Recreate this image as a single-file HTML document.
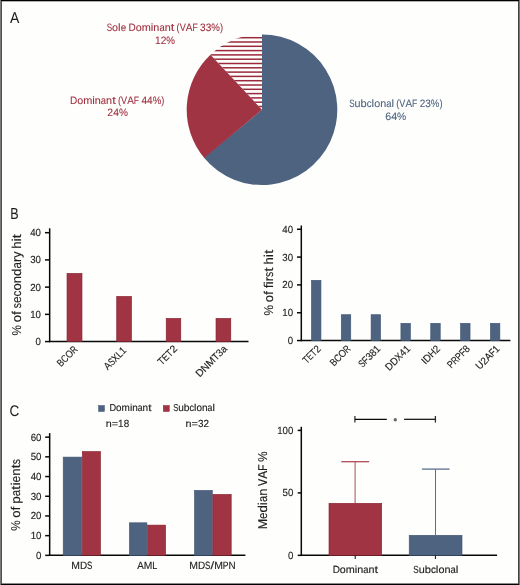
<!DOCTYPE html>
<html><head><meta charset="utf-8"><style>
html,body{margin:0;padding:0;background:#fefefd;}
svg{display:block;text-rendering:geometricPrecision;font-family:"Liberation Sans",sans-serif;-webkit-font-smoothing:antialiased;will-change:transform;}
</style></head><body>
<svg width="520" height="585" viewBox="0 0 520 585">
<rect x="0" y="0" width="520" height="585" fill="#fefefd"/>
<g transform="translate(14.55,22.90)" font-size="15.48" fill="#1e1e1e" stroke="#1e1e1e" stroke-width="0.05"><text x="-4.66" y="0" textLength="9.32" lengthAdjust="spacingAndGlyphs">A</text></g>
<g transform="translate(14.45,218.90)" font-size="15.88" fill="#1e1e1e" stroke="#1e1e1e" stroke-width="0.05"><text x="-4.18" y="0" textLength="8.36" lengthAdjust="spacingAndGlyphs">B</text></g>
<g transform="translate(14.35,416.00)" font-size="15.29" fill="#1e1e1e" stroke="#1e1e1e" stroke-width="0.05"><text x="-4.85" y="0" textLength="9.70" lengthAdjust="spacingAndGlyphs">C</text></g>
<path d="M262.0,109.7 L262.000,34.400 A75.3,75.3 0 1 1 203.813,157.495 Z" fill="#4d6380"/>
<path d="M262.0,109.7 L204.232,158.001 A75.3,75.3 0 0 1 210.454,54.809 Z" fill="#a03443"/>
<clipPath id="hc"><path d="M262.0,109.7 L210.454,54.809 A75.3,75.3 0 0 1 262.0,34.400000000000006 Z"/></clipPath>
<g clip-path="url(#hc)"><rect x="180" y="36.95" width="90" height="1.5" fill="#9a2a3a"/><rect x="180" y="41.25" width="90" height="1.5" fill="#9a2a3a"/><rect x="180" y="45.55" width="90" height="1.5" fill="#9a2a3a"/><rect x="180" y="49.85" width="90" height="1.5" fill="#9a2a3a"/><rect x="180" y="54.15" width="90" height="1.5" fill="#9a2a3a"/><rect x="180" y="58.45" width="90" height="1.5" fill="#9a2a3a"/><rect x="180" y="62.75" width="90" height="1.5" fill="#9a2a3a"/><rect x="180" y="67.05" width="90" height="1.5" fill="#9a2a3a"/><rect x="180" y="71.35" width="90" height="1.5" fill="#9a2a3a"/><rect x="180" y="75.65" width="90" height="1.5" fill="#9a2a3a"/><rect x="180" y="79.95" width="90" height="1.5" fill="#9a2a3a"/><rect x="180" y="84.25" width="90" height="1.5" fill="#9a2a3a"/><rect x="180" y="88.55" width="90" height="1.5" fill="#9a2a3a"/><rect x="180" y="92.85" width="90" height="1.5" fill="#9a2a3a"/><rect x="180" y="97.15" width="90" height="1.5" fill="#9a2a3a"/><rect x="180" y="101.45" width="90" height="1.5" fill="#9a2a3a"/><rect x="180" y="105.75" width="90" height="1.5" fill="#9a2a3a"/></g>
<g transform="translate(164.85,30.50)" font-size="10.68" fill="#a0303f" stroke="#a0303f" stroke-width="0.08"><text x="-58.14" y="0" textLength="5.38" lengthAdjust="spacingAndGlyphs">S</text><text x="-52.76" y="0" textLength="5.99" lengthAdjust="spacingAndGlyphs">o</text><text x="-46.78" y="0" textLength="2.57" lengthAdjust="spacingAndGlyphs">l</text><text x="-44.21" y="0" textLength="5.46" lengthAdjust="spacingAndGlyphs">e</text><text x="-36.43" y="0" textLength="7.26" lengthAdjust="spacingAndGlyphs">D</text><text x="-29.17" y="0" textLength="5.99" lengthAdjust="spacingAndGlyphs">o</text><text x="-23.18" y="0" textLength="9.09" lengthAdjust="spacingAndGlyphs">m</text><text x="-14.09" y="0" textLength="2.55" lengthAdjust="spacingAndGlyphs">i</text><text x="-11.54" y="0" textLength="6.05" lengthAdjust="spacingAndGlyphs">n</text><text x="-5.48" y="0" textLength="5.26" lengthAdjust="spacingAndGlyphs">a</text><text x="-0.23" y="0" textLength="6.05" lengthAdjust="spacingAndGlyphs">n</text><text x="5.82" y="0" textLength="3.61" lengthAdjust="spacingAndGlyphs">t</text><text x="11.74" y="0" textLength="3.10" lengthAdjust="spacingAndGlyphs">(</text><text x="14.84" y="0" textLength="6.08" lengthAdjust="spacingAndGlyphs">V</text><text x="20.92" y="0" textLength="6.67" lengthAdjust="spacingAndGlyphs">A</text><text x="27.60" y="0" textLength="5.31" lengthAdjust="spacingAndGlyphs">F</text><text x="35.22" y="0" textLength="5.59" lengthAdjust="spacingAndGlyphs">3</text><text x="40.81" y="0" textLength="5.59" lengthAdjust="spacingAndGlyphs">3</text><text x="46.41" y="0" textLength="8.64" lengthAdjust="spacingAndGlyphs">%</text><text x="55.04" y="0" textLength="3.10" lengthAdjust="spacingAndGlyphs">)</text></g>
<g transform="translate(165.00,43.60)" font-size="10.68" fill="#a0303f" stroke="#a0303f" stroke-width="0.08"><text x="-9.99" y="0" textLength="5.64" lengthAdjust="spacingAndGlyphs">1</text><text x="-4.35" y="0" textLength="5.64" lengthAdjust="spacingAndGlyphs">2</text><text x="1.29" y="0" textLength="8.70" lengthAdjust="spacingAndGlyphs">%</text></g>
<g transform="translate(117.15,103.50)" font-size="10.68" fill="#a0303f" stroke="#a0303f" stroke-width="0.08"><text x="-47.24" y="0" textLength="7.26" lengthAdjust="spacingAndGlyphs">D</text><text x="-39.99" y="0" textLength="5.98" lengthAdjust="spacingAndGlyphs">o</text><text x="-34.00" y="0" textLength="9.09" lengthAdjust="spacingAndGlyphs">m</text><text x="-24.92" y="0" textLength="2.55" lengthAdjust="spacingAndGlyphs">i</text><text x="-22.37" y="0" textLength="6.05" lengthAdjust="spacingAndGlyphs">n</text><text x="-16.32" y="0" textLength="5.25" lengthAdjust="spacingAndGlyphs">a</text><text x="-11.07" y="0" textLength="6.05" lengthAdjust="spacingAndGlyphs">n</text><text x="-5.03" y="0" textLength="3.61" lengthAdjust="spacingAndGlyphs">t</text><text x="0.89" y="0" textLength="3.09" lengthAdjust="spacingAndGlyphs">(</text><text x="3.98" y="0" textLength="6.08" lengthAdjust="spacingAndGlyphs">V</text><text x="10.06" y="0" textLength="6.67" lengthAdjust="spacingAndGlyphs">A</text><text x="16.73" y="0" textLength="5.31" lengthAdjust="spacingAndGlyphs">F</text><text x="24.34" y="0" textLength="5.59" lengthAdjust="spacingAndGlyphs">4</text><text x="29.93" y="0" textLength="5.59" lengthAdjust="spacingAndGlyphs">4</text><text x="35.52" y="0" textLength="8.63" lengthAdjust="spacingAndGlyphs">%</text><text x="44.15" y="0" textLength="3.09" lengthAdjust="spacingAndGlyphs">)</text></g>
<g transform="translate(117.60,116.20)" font-size="10.68" fill="#a0303f" stroke="#a0303f" stroke-width="0.08"><text x="-10.29" y="0" textLength="5.81" lengthAdjust="spacingAndGlyphs">2</text><text x="-4.48" y="0" textLength="5.81" lengthAdjust="spacingAndGlyphs">4</text><text x="1.32" y="0" textLength="8.97" lengthAdjust="spacingAndGlyphs">%</text></g>
<g transform="translate(395.85,107.30)" font-size="10.68" fill="#4d6380" stroke="#4d6380" stroke-width="0.08"><text x="-46.64" y="0" textLength="5.36" lengthAdjust="spacingAndGlyphs">S</text><text x="-41.28" y="0" textLength="5.99" lengthAdjust="spacingAndGlyphs">u</text><text x="-35.30" y="0" textLength="6.18" lengthAdjust="spacingAndGlyphs">b</text><text x="-29.12" y="0" textLength="4.87" lengthAdjust="spacingAndGlyphs">c</text><text x="-24.25" y="0" textLength="2.56" lengthAdjust="spacingAndGlyphs">l</text><text x="-21.69" y="0" textLength="5.96" lengthAdjust="spacingAndGlyphs">o</text><text x="-15.72" y="0" textLength="6.03" lengthAdjust="spacingAndGlyphs">n</text><text x="-9.69" y="0" textLength="5.24" lengthAdjust="spacingAndGlyphs">a</text><text x="-4.45" y="0" textLength="2.56" lengthAdjust="spacingAndGlyphs">l</text><text x="0.41" y="0" textLength="3.09" lengthAdjust="spacingAndGlyphs">(</text><text x="3.50" y="0" textLength="6.06" lengthAdjust="spacingAndGlyphs">V</text><text x="9.56" y="0" textLength="6.65" lengthAdjust="spacingAndGlyphs">A</text><text x="16.21" y="0" textLength="5.29" lengthAdjust="spacingAndGlyphs">F</text><text x="23.80" y="0" textLength="5.57" lengthAdjust="spacingAndGlyphs">2</text><text x="29.38" y="0" textLength="5.57" lengthAdjust="spacingAndGlyphs">3</text><text x="34.95" y="0" textLength="8.60" lengthAdjust="spacingAndGlyphs">%</text><text x="43.56" y="0" textLength="3.09" lengthAdjust="spacingAndGlyphs">)</text></g>
<g transform="translate(395.75,120.00)" font-size="10.68" fill="#4d6380" stroke="#4d6380" stroke-width="0.08"><text x="-10.54" y="0" textLength="5.95" lengthAdjust="spacingAndGlyphs">6</text><text x="-4.59" y="0" textLength="5.95" lengthAdjust="spacingAndGlyphs">4</text><text x="1.36" y="0" textLength="9.18" lengthAdjust="spacingAndGlyphs">%</text></g>
<line x1="49.67" y1="228.30" x2="49.67" y2="342.17" stroke="#080808" stroke-width="1.5"/>
<line x1="49.07" y1="341.57" x2="248.50" y2="341.57" stroke="#080808" stroke-width="1.5"/>
<line x1="45.00" y1="341.57" x2="49.67" y2="341.57" stroke="#080808" stroke-width="1.5"/>
<g transform="translate(41.00,345.02)" font-size="10.29" fill="#1e1e1e" stroke="#1e1e1e" stroke-width="0.14"><text x="-5.39" y="0" textLength="5.39" lengthAdjust="spacingAndGlyphs">0</text></g>
<line x1="45.00" y1="314.35" x2="49.67" y2="314.35" stroke="#080808" stroke-width="1.5"/>
<g transform="translate(41.00,317.80)" font-size="10.29" fill="#1e1e1e" stroke="#1e1e1e" stroke-width="0.14"><text x="-10.77" y="0" textLength="5.39" lengthAdjust="spacingAndGlyphs">1</text><text x="-5.39" y="0" textLength="5.39" lengthAdjust="spacingAndGlyphs">0</text></g>
<line x1="45.00" y1="287.13" x2="49.67" y2="287.13" stroke="#080808" stroke-width="1.5"/>
<g transform="translate(41.00,290.58)" font-size="10.29" fill="#1e1e1e" stroke="#1e1e1e" stroke-width="0.14"><text x="-10.77" y="0" textLength="5.39" lengthAdjust="spacingAndGlyphs">2</text><text x="-5.39" y="0" textLength="5.39" lengthAdjust="spacingAndGlyphs">0</text></g>
<line x1="45.00" y1="259.91" x2="49.67" y2="259.91" stroke="#080808" stroke-width="1.5"/>
<g transform="translate(41.00,263.36)" font-size="10.29" fill="#1e1e1e" stroke="#1e1e1e" stroke-width="0.14"><text x="-10.77" y="0" textLength="5.39" lengthAdjust="spacingAndGlyphs">3</text><text x="-5.39" y="0" textLength="5.39" lengthAdjust="spacingAndGlyphs">0</text></g>
<line x1="45.00" y1="232.69" x2="49.67" y2="232.69" stroke="#080808" stroke-width="1.5"/>
<g transform="translate(41.00,236.14)" font-size="10.29" fill="#1e1e1e" stroke="#1e1e1e" stroke-width="0.14"><text x="-10.77" y="0" textLength="5.39" lengthAdjust="spacingAndGlyphs">4</text><text x="-5.39" y="0" textLength="5.39" lengthAdjust="spacingAndGlyphs">0</text></g>
<g transform="translate(21.00,284.70) rotate(-90)" font-size="12.74" fill="#1e1e1e" stroke="#1e1e1e" stroke-width="0.14"><text x="-50.69" y="0" textLength="10.45" lengthAdjust="spacingAndGlyphs">%</text><text x="-37.44" y="0" textLength="7.24" lengthAdjust="spacingAndGlyphs">o</text><text x="-30.19" y="0" textLength="3.85" lengthAdjust="spacingAndGlyphs">f</text><text x="-23.54" y="0" textLength="5.23" lengthAdjust="spacingAndGlyphs">s</text><text x="-18.32" y="0" textLength="6.61" lengthAdjust="spacingAndGlyphs">e</text><text x="-11.70" y="0" textLength="5.91" lengthAdjust="spacingAndGlyphs">c</text><text x="-5.79" y="0" textLength="7.24" lengthAdjust="spacingAndGlyphs">o</text><text x="1.45" y="0" textLength="7.32" lengthAdjust="spacingAndGlyphs">n</text><text x="8.78" y="0" textLength="7.44" lengthAdjust="spacingAndGlyphs">d</text><text x="16.22" y="0" textLength="6.36" lengthAdjust="spacingAndGlyphs">a</text><text x="22.58" y="0" textLength="4.32" lengthAdjust="spacingAndGlyphs">r</text><text x="26.89" y="0" textLength="6.22" lengthAdjust="spacingAndGlyphs">y</text><text x="35.91" y="0" textLength="7.32" lengthAdjust="spacingAndGlyphs">h</text><text x="43.23" y="0" textLength="3.09" lengthAdjust="spacingAndGlyphs">i</text><text x="46.32" y="0" textLength="4.37" lengthAdjust="spacingAndGlyphs">t</text></g>
<rect x="67.05" y="273.55" width="14.90" height="68.02" fill="#a03443" stroke="#88202f" stroke-width="0.7"/>
<rect x="116.75" y="296.55" width="14.60" height="45.02" fill="#a03443" stroke="#88202f" stroke-width="0.7"/>
<rect x="166.25" y="318.55" width="14.50" height="23.02" fill="#a03443" stroke="#88202f" stroke-width="0.7"/>
<rect x="216.05" y="318.55" width="14.70" height="23.02" fill="#a03443" stroke="#88202f" stroke-width="0.7"/>
<g transform="translate(69.60,358.65) rotate(-45)" font-size="10.29" fill="#1e1e1e" stroke="#1e1e1e" stroke-width="0.14"><text x="-12.03" y="0" textLength="5.55" lengthAdjust="spacingAndGlyphs">B</text><text x="-6.48" y="0" textLength="5.94" lengthAdjust="spacingAndGlyphs">C</text><text x="-0.54" y="0" textLength="7.06" lengthAdjust="spacingAndGlyphs">O</text><text x="6.52" y="0" textLength="5.51" lengthAdjust="spacingAndGlyphs">R</text></g>
<g transform="translate(117.40,360.75) rotate(-45)" font-size="10.29" fill="#1e1e1e" stroke="#1e1e1e" stroke-width="0.14"><text x="-13.67" y="0" textLength="6.29" lengthAdjust="spacingAndGlyphs">A</text><text x="-7.38" y="0" textLength="5.06" lengthAdjust="spacingAndGlyphs">S</text><text x="-2.32" y="0" textLength="5.86" lengthAdjust="spacingAndGlyphs">X</text><text x="3.55" y="0" textLength="4.85" lengthAdjust="spacingAndGlyphs">L</text><text x="8.40" y="0" textLength="5.27" lengthAdjust="spacingAndGlyphs">1</text></g>
<g transform="translate(169.85,357.60) rotate(-45)" font-size="10.29" fill="#1e1e1e" stroke="#1e1e1e" stroke-width="0.14"><text x="-11.57" y="0" textLength="5.76" lengthAdjust="spacingAndGlyphs">T</text><text x="-5.82" y="0" textLength="5.70" lengthAdjust="spacingAndGlyphs">E</text><text x="-0.12" y="0" textLength="5.76" lengthAdjust="spacingAndGlyphs">T</text><text x="5.63" y="0" textLength="5.94" lengthAdjust="spacingAndGlyphs">2</text></g>
<g transform="translate(213.75,363.55) rotate(-45)" font-size="10.29" fill="#1e1e1e" stroke="#1e1e1e" stroke-width="0.14"><text x="-19.85" y="0" textLength="7.30" lengthAdjust="spacingAndGlyphs">D</text><text x="-12.55" y="0" textLength="7.22" lengthAdjust="spacingAndGlyphs">N</text><text x="-5.33" y="0" textLength="8.82" lengthAdjust="spacingAndGlyphs">M</text><text x="3.49" y="0" textLength="5.45" lengthAdjust="spacingAndGlyphs">T</text><text x="8.94" y="0" textLength="5.63" lengthAdjust="spacingAndGlyphs">3</text><text x="14.56" y="0" textLength="5.29" lengthAdjust="spacingAndGlyphs">a</text></g>
<line x1="301.30" y1="225.50" x2="301.30" y2="341.16" stroke="#080808" stroke-width="1.5"/>
<line x1="300.70" y1="340.56" x2="510.40" y2="340.56" stroke="#080808" stroke-width="1.5"/>
<line x1="297.00" y1="340.56" x2="301.30" y2="340.56" stroke="#080808" stroke-width="1.5"/>
<g transform="translate(293.10,344.01)" font-size="10.29" fill="#1e1e1e" stroke="#1e1e1e" stroke-width="0.14"><text x="-5.39" y="0" textLength="5.39" lengthAdjust="spacingAndGlyphs">0</text></g>
<line x1="297.00" y1="312.73" x2="301.30" y2="312.73" stroke="#080808" stroke-width="1.5"/>
<g transform="translate(293.10,316.18)" font-size="10.29" fill="#1e1e1e" stroke="#1e1e1e" stroke-width="0.14"><text x="-10.77" y="0" textLength="5.39" lengthAdjust="spacingAndGlyphs">1</text><text x="-5.39" y="0" textLength="5.39" lengthAdjust="spacingAndGlyphs">0</text></g>
<line x1="297.00" y1="284.90" x2="301.30" y2="284.90" stroke="#080808" stroke-width="1.5"/>
<g transform="translate(293.10,288.35)" font-size="10.29" fill="#1e1e1e" stroke="#1e1e1e" stroke-width="0.14"><text x="-10.77" y="0" textLength="5.39" lengthAdjust="spacingAndGlyphs">2</text><text x="-5.39" y="0" textLength="5.39" lengthAdjust="spacingAndGlyphs">0</text></g>
<line x1="297.00" y1="257.07" x2="301.30" y2="257.07" stroke="#080808" stroke-width="1.5"/>
<g transform="translate(293.10,260.52)" font-size="10.29" fill="#1e1e1e" stroke="#1e1e1e" stroke-width="0.14"><text x="-10.77" y="0" textLength="5.39" lengthAdjust="spacingAndGlyphs">3</text><text x="-5.39" y="0" textLength="5.39" lengthAdjust="spacingAndGlyphs">0</text></g>
<line x1="297.00" y1="229.24" x2="301.30" y2="229.24" stroke="#080808" stroke-width="1.5"/>
<g transform="translate(293.10,232.69)" font-size="10.29" fill="#1e1e1e" stroke="#1e1e1e" stroke-width="0.14"><text x="-10.77" y="0" textLength="5.39" lengthAdjust="spacingAndGlyphs">4</text><text x="-5.39" y="0" textLength="5.39" lengthAdjust="spacingAndGlyphs">0</text></g>
<g transform="translate(272.90,282.65) rotate(-90)" font-size="12.74" fill="#1e1e1e" stroke="#1e1e1e" stroke-width="0.14"><text x="-32.93" y="0" textLength="10.50" lengthAdjust="spacingAndGlyphs">%</text><text x="-19.63" y="0" textLength="7.28" lengthAdjust="spacingAndGlyphs">o</text><text x="-12.35" y="0" textLength="3.87" lengthAdjust="spacingAndGlyphs">f</text><text x="-5.67" y="0" textLength="3.87" lengthAdjust="spacingAndGlyphs">f</text><text x="-1.80" y="0" textLength="3.10" lengthAdjust="spacingAndGlyphs">i</text><text x="1.31" y="0" textLength="4.33" lengthAdjust="spacingAndGlyphs">r</text><text x="5.64" y="0" textLength="5.25" lengthAdjust="spacingAndGlyphs">s</text><text x="10.89" y="0" textLength="4.39" lengthAdjust="spacingAndGlyphs">t</text><text x="18.09" y="0" textLength="7.36" lengthAdjust="spacingAndGlyphs">h</text><text x="25.45" y="0" textLength="3.10" lengthAdjust="spacingAndGlyphs">i</text><text x="28.55" y="0" textLength="4.39" lengthAdjust="spacingAndGlyphs">t</text></g>
<rect x="311.45" y="280.30" width="9.50" height="60.26" fill="#4d6380" stroke="#3f5372" stroke-width="0.6"/>
<rect x="341.27" y="314.70" width="9.50" height="25.86" fill="#4d6380" stroke="#3f5372" stroke-width="0.6"/>
<rect x="371.09" y="314.70" width="9.50" height="25.86" fill="#4d6380" stroke="#3f5372" stroke-width="0.6"/>
<rect x="400.91" y="323.30" width="9.50" height="17.26" fill="#4d6380" stroke="#3f5372" stroke-width="0.6"/>
<rect x="430.73" y="323.30" width="9.50" height="17.26" fill="#4d6380" stroke="#3f5372" stroke-width="0.6"/>
<rect x="460.55" y="323.30" width="9.50" height="17.26" fill="#4d6380" stroke="#3f5372" stroke-width="0.6"/>
<rect x="490.37" y="323.30" width="9.50" height="17.26" fill="#4d6380" stroke="#3f5372" stroke-width="0.6"/>
<g transform="translate(321.50,349.40) rotate(-45)" font-size="10.29" fill="#1e1e1e" stroke="#1e1e1e" stroke-width="0.14"><text x="-20.99" y="0" textLength="5.22" lengthAdjust="spacingAndGlyphs">T</text><text x="-15.77" y="0" textLength="5.17" lengthAdjust="spacingAndGlyphs">E</text><text x="-10.61" y="0" textLength="5.22" lengthAdjust="spacingAndGlyphs">T</text><text x="-5.39" y="0" textLength="5.39" lengthAdjust="spacingAndGlyphs">2</text></g>
<g transform="translate(351.32,349.40) rotate(-45)" font-size="10.29" fill="#1e1e1e" stroke="#1e1e1e" stroke-width="0.14"><text x="-24.66" y="0" textLength="5.69" lengthAdjust="spacingAndGlyphs">B</text><text x="-18.97" y="0" textLength="6.09" lengthAdjust="spacingAndGlyphs">C</text><text x="-12.88" y="0" textLength="7.23" lengthAdjust="spacingAndGlyphs">O</text><text x="-5.65" y="0" textLength="5.65" lengthAdjust="spacingAndGlyphs">R</text></g>
<g transform="translate(381.14,349.40) rotate(-45)" font-size="10.29" fill="#1e1e1e" stroke="#1e1e1e" stroke-width="0.14"><text x="-26.45" y="0" textLength="5.18" lengthAdjust="spacingAndGlyphs">S</text><text x="-21.27" y="0" textLength="5.11" lengthAdjust="spacingAndGlyphs">F</text><text x="-16.16" y="0" textLength="5.39" lengthAdjust="spacingAndGlyphs">3</text><text x="-10.77" y="0" textLength="5.39" lengthAdjust="spacingAndGlyphs">8</text><text x="-5.39" y="0" textLength="5.39" lengthAdjust="spacingAndGlyphs">1</text></g>
<g transform="translate(410.96,349.40) rotate(-45)" font-size="10.29" fill="#1e1e1e" stroke="#1e1e1e" stroke-width="0.14"><text x="-30.75" y="0" textLength="6.99" lengthAdjust="spacingAndGlyphs">D</text><text x="-23.76" y="0" textLength="6.99" lengthAdjust="spacingAndGlyphs">D</text><text x="-16.77" y="0" textLength="6.00" lengthAdjust="spacingAndGlyphs">X</text><text x="-10.77" y="0" textLength="5.39" lengthAdjust="spacingAndGlyphs">4</text><text x="-5.39" y="0" textLength="5.39" lengthAdjust="spacingAndGlyphs">1</text></g>
<g transform="translate(440.78,349.40) rotate(-45)" font-size="10.29" fill="#1e1e1e" stroke="#1e1e1e" stroke-width="0.14"><text x="-21.73" y="0" textLength="2.51" lengthAdjust="spacingAndGlyphs">I</text><text x="-19.23" y="0" textLength="6.99" lengthAdjust="spacingAndGlyphs">D</text><text x="-12.23" y="0" textLength="6.85" lengthAdjust="spacingAndGlyphs">H</text><text x="-5.39" y="0" textLength="5.39" lengthAdjust="spacingAndGlyphs">2</text></g>
<g transform="translate(470.60,349.40) rotate(-45)" font-size="10.29" fill="#1e1e1e" stroke="#1e1e1e" stroke-width="0.14"><text x="-27.32" y="0" textLength="5.59" lengthAdjust="spacingAndGlyphs">P</text><text x="-21.73" y="0" textLength="5.65" lengthAdjust="spacingAndGlyphs">R</text><text x="-16.09" y="0" textLength="5.59" lengthAdjust="spacingAndGlyphs">P</text><text x="-10.50" y="0" textLength="5.11" lengthAdjust="spacingAndGlyphs">F</text><text x="-5.39" y="0" textLength="5.39" lengthAdjust="spacingAndGlyphs">8</text></g>
<g transform="translate(500.42,349.40) rotate(-45)" font-size="10.29" fill="#1e1e1e" stroke="#1e1e1e" stroke-width="0.14"><text x="-29.11" y="0" textLength="6.79" lengthAdjust="spacingAndGlyphs">U</text><text x="-22.31" y="0" textLength="5.39" lengthAdjust="spacingAndGlyphs">2</text><text x="-16.93" y="0" textLength="6.43" lengthAdjust="spacingAndGlyphs">A</text><text x="-10.50" y="0" textLength="5.11" lengthAdjust="spacingAndGlyphs">F</text><text x="-5.39" y="0" textLength="5.39" lengthAdjust="spacingAndGlyphs">1</text></g>
<line x1="49.67" y1="433.10" x2="49.67" y2="555.90" stroke="#080808" stroke-width="1.5"/>
<line x1="48.90" y1="555.35" x2="245.40" y2="555.35" stroke="#080808" stroke-width="1.5"/>
<line x1="45.20" y1="555.35" x2="49.50" y2="555.35" stroke="#080808" stroke-width="1.5"/>
<g transform="translate(41.40,558.80)" font-size="10.29" fill="#1e1e1e" stroke="#1e1e1e" stroke-width="0.14"><text x="-5.39" y="0" textLength="5.39" lengthAdjust="spacingAndGlyphs">0</text></g>
<line x1="45.20" y1="535.65" x2="49.50" y2="535.65" stroke="#080808" stroke-width="1.5"/>
<g transform="translate(41.40,539.10)" font-size="10.29" fill="#1e1e1e" stroke="#1e1e1e" stroke-width="0.14"><text x="-10.77" y="0" textLength="5.39" lengthAdjust="spacingAndGlyphs">1</text><text x="-5.39" y="0" textLength="5.39" lengthAdjust="spacingAndGlyphs">0</text></g>
<line x1="45.20" y1="515.95" x2="49.50" y2="515.95" stroke="#080808" stroke-width="1.5"/>
<g transform="translate(41.40,519.40)" font-size="10.29" fill="#1e1e1e" stroke="#1e1e1e" stroke-width="0.14"><text x="-10.77" y="0" textLength="5.39" lengthAdjust="spacingAndGlyphs">2</text><text x="-5.39" y="0" textLength="5.39" lengthAdjust="spacingAndGlyphs">0</text></g>
<line x1="45.20" y1="496.25" x2="49.50" y2="496.25" stroke="#080808" stroke-width="1.5"/>
<g transform="translate(41.40,499.70)" font-size="10.29" fill="#1e1e1e" stroke="#1e1e1e" stroke-width="0.14"><text x="-10.77" y="0" textLength="5.39" lengthAdjust="spacingAndGlyphs">3</text><text x="-5.39" y="0" textLength="5.39" lengthAdjust="spacingAndGlyphs">0</text></g>
<line x1="45.20" y1="476.55" x2="49.50" y2="476.55" stroke="#080808" stroke-width="1.5"/>
<g transform="translate(41.40,480.00)" font-size="10.29" fill="#1e1e1e" stroke="#1e1e1e" stroke-width="0.14"><text x="-10.77" y="0" textLength="5.39" lengthAdjust="spacingAndGlyphs">4</text><text x="-5.39" y="0" textLength="5.39" lengthAdjust="spacingAndGlyphs">0</text></g>
<line x1="45.20" y1="456.85" x2="49.50" y2="456.85" stroke="#080808" stroke-width="1.5"/>
<g transform="translate(41.40,460.30)" font-size="10.29" fill="#1e1e1e" stroke="#1e1e1e" stroke-width="0.14"><text x="-10.77" y="0" textLength="5.39" lengthAdjust="spacingAndGlyphs">5</text><text x="-5.39" y="0" textLength="5.39" lengthAdjust="spacingAndGlyphs">0</text></g>
<line x1="45.20" y1="437.15" x2="49.50" y2="437.15" stroke="#080808" stroke-width="1.5"/>
<g transform="translate(41.40,440.60)" font-size="10.29" fill="#1e1e1e" stroke="#1e1e1e" stroke-width="0.14"><text x="-10.77" y="0" textLength="5.39" lengthAdjust="spacingAndGlyphs">6</text><text x="-5.39" y="0" textLength="5.39" lengthAdjust="spacingAndGlyphs">0</text></g>
<g transform="translate(20.40,494.90) rotate(-90)" font-size="12.74" fill="#1e1e1e" stroke="#1e1e1e" stroke-width="0.14"><text x="-35.98" y="0" textLength="10.45" lengthAdjust="spacingAndGlyphs">%</text><text x="-22.74" y="0" textLength="7.24" lengthAdjust="spacingAndGlyphs">o</text><text x="-15.50" y="0" textLength="3.85" lengthAdjust="spacingAndGlyphs">f</text><text x="-8.85" y="0" textLength="7.51" lengthAdjust="spacingAndGlyphs">p</text><text x="-1.35" y="0" textLength="6.36" lengthAdjust="spacingAndGlyphs">a</text><text x="5.01" y="0" textLength="4.37" lengthAdjust="spacingAndGlyphs">t</text><text x="9.38" y="0" textLength="3.09" lengthAdjust="spacingAndGlyphs">i</text><text x="12.47" y="0" textLength="6.61" lengthAdjust="spacingAndGlyphs">e</text><text x="19.07" y="0" textLength="7.32" lengthAdjust="spacingAndGlyphs">n</text><text x="26.40" y="0" textLength="4.37" lengthAdjust="spacingAndGlyphs">t</text><text x="30.76" y="0" textLength="5.22" lengthAdjust="spacingAndGlyphs">s</text></g>
<rect x="63.20" y="457.10" width="18.50" height="98.25" fill="#4d6380" stroke="#3f5372" stroke-width="0.6"/>
<rect x="82.30" y="451.50" width="18.20" height="103.85" fill="#a03443" stroke="#88202f" stroke-width="0.6"/>
<rect x="129.40" y="522.80" width="17.50" height="32.55" fill="#4d6380" stroke="#3f5372" stroke-width="0.6"/>
<rect x="147.50" y="525.10" width="18.10" height="30.25" fill="#a03443" stroke="#88202f" stroke-width="0.6"/>
<rect x="194.50" y="490.40" width="17.80" height="64.95" fill="#4d6380" stroke="#3f5372" stroke-width="0.6"/>
<rect x="212.90" y="494.40" width="18.30" height="60.95" fill="#a03443" stroke="#88202f" stroke-width="0.6"/>
<g transform="translate(81.80,568.60)" font-size="10.58" fill="#1e1e1e" stroke="#1e1e1e" stroke-width="0.14"><text x="-10.59" y="0" textLength="8.67" lengthAdjust="spacingAndGlyphs">M</text><text x="-1.91" y="0" textLength="7.18" lengthAdjust="spacingAndGlyphs">D</text><text x="5.27" y="0" textLength="5.32" lengthAdjust="spacingAndGlyphs">S</text></g>
<g transform="translate(147.30,568.60)" font-size="10.58" fill="#1e1e1e" stroke="#1e1e1e" stroke-width="0.14"><text x="-10.09" y="0" textLength="6.54" lengthAdjust="spacingAndGlyphs">A</text><text x="-3.55" y="0" textLength="8.59" lengthAdjust="spacingAndGlyphs">M</text><text x="5.04" y="0" textLength="5.04" lengthAdjust="spacingAndGlyphs">L</text></g>
<g transform="translate(212.45,568.60)" font-size="10.58" fill="#1e1e1e" stroke="#1e1e1e" stroke-width="0.14"><text x="-23.24" y="0" textLength="8.69" lengthAdjust="spacingAndGlyphs">M</text><text x="-14.55" y="0" textLength="7.20" lengthAdjust="spacingAndGlyphs">D</text><text x="-7.35" y="0" textLength="5.33" lengthAdjust="spacingAndGlyphs">S</text><text x="-2.02" y="0" textLength="3.71" lengthAdjust="spacingAndGlyphs">/</text><text x="1.69" y="0" textLength="8.69" lengthAdjust="spacingAndGlyphs">M</text><text x="10.38" y="0" textLength="5.75" lengthAdjust="spacingAndGlyphs">P</text><text x="16.12" y="0" textLength="7.11" lengthAdjust="spacingAndGlyphs">N</text></g>
<rect x="98.55" y="405.55" width="5.90" height="5.95" fill="#4d6380" stroke="#3f5372" stroke-width="0.5"/>
<g transform="translate(130.45,411.40)" font-size="10.09" fill="#1e1e1e" stroke="#1e1e1e" stroke-width="0.14"><text x="-21.01" y="0" textLength="6.65" lengthAdjust="spacingAndGlyphs">D</text><text x="-14.36" y="0" textLength="5.49" lengthAdjust="spacingAndGlyphs">o</text><text x="-8.87" y="0" textLength="8.33" lengthAdjust="spacingAndGlyphs">m</text><text x="-0.54" y="0" textLength="2.34" lengthAdjust="spacingAndGlyphs">i</text><text x="1.80" y="0" textLength="5.55" lengthAdjust="spacingAndGlyphs">n</text><text x="7.34" y="0" textLength="4.82" lengthAdjust="spacingAndGlyphs">a</text><text x="12.16" y="0" textLength="5.55" lengthAdjust="spacingAndGlyphs">n</text><text x="17.71" y="0" textLength="3.31" lengthAdjust="spacingAndGlyphs">t</text></g>
<rect x="163.35" y="405.55" width="5.90" height="5.95" fill="#a03443" stroke="#88202f" stroke-width="0.5"/>
<g transform="translate(194.00,411.40)" font-size="10.09" fill="#1e1e1e" stroke="#1e1e1e" stroke-width="0.14"><text x="-20.86" y="0" textLength="4.99" lengthAdjust="spacingAndGlyphs">S</text><text x="-15.87" y="0" textLength="5.58" lengthAdjust="spacingAndGlyphs">u</text><text x="-10.29" y="0" textLength="5.76" lengthAdjust="spacingAndGlyphs">b</text><text x="-4.52" y="0" textLength="4.54" lengthAdjust="spacingAndGlyphs">c</text><text x="0.02" y="0" textLength="2.39" lengthAdjust="spacingAndGlyphs">l</text><text x="2.41" y="0" textLength="5.56" lengthAdjust="spacingAndGlyphs">o</text><text x="7.97" y="0" textLength="5.62" lengthAdjust="spacingAndGlyphs">n</text><text x="13.59" y="0" textLength="4.88" lengthAdjust="spacingAndGlyphs">a</text><text x="18.47" y="0" textLength="2.39" lengthAdjust="spacingAndGlyphs">l</text></g>
<g transform="translate(117.45,426.60)" font-size="10.29" fill="#1e1e1e" stroke="#1e1e1e" stroke-width="0.14"><text x="-11.72" y="0" textLength="5.98" lengthAdjust="spacingAndGlyphs">n</text><text x="-5.75" y="0" textLength="6.42" lengthAdjust="spacingAndGlyphs">=</text><text x="0.67" y="0" textLength="5.52" lengthAdjust="spacingAndGlyphs">1</text><text x="6.20" y="0" textLength="5.52" lengthAdjust="spacingAndGlyphs">8</text></g>
<g transform="translate(197.25,426.60)" font-size="10.29" fill="#1e1e1e" stroke="#1e1e1e" stroke-width="0.14"><text x="-11.72" y="0" textLength="5.98" lengthAdjust="spacingAndGlyphs">n</text><text x="-5.75" y="0" textLength="6.42" lengthAdjust="spacingAndGlyphs">=</text><text x="0.67" y="0" textLength="5.52" lengthAdjust="spacingAndGlyphs">3</text><text x="6.20" y="0" textLength="5.52" lengthAdjust="spacingAndGlyphs">2</text></g>
<line x1="301.30" y1="426.80" x2="301.30" y2="555.95" stroke="#080808" stroke-width="1.5"/>
<line x1="300.70" y1="555.35" x2="497.10" y2="555.35" stroke="#080808" stroke-width="1.5"/>
<line x1="297.70" y1="555.35" x2="301.30" y2="555.35" stroke="#080808" stroke-width="1.5"/>
<g transform="translate(293.30,558.80)" font-size="10.29" fill="#1e1e1e" stroke="#1e1e1e" stroke-width="0.14"><text x="-5.39" y="0" textLength="5.39" lengthAdjust="spacingAndGlyphs">0</text></g>
<line x1="297.70" y1="492.90" x2="301.30" y2="492.90" stroke="#080808" stroke-width="1.5"/>
<g transform="translate(293.30,496.35)" font-size="10.29" fill="#1e1e1e" stroke="#1e1e1e" stroke-width="0.14"><text x="-10.77" y="0" textLength="5.39" lengthAdjust="spacingAndGlyphs">5</text><text x="-5.39" y="0" textLength="5.39" lengthAdjust="spacingAndGlyphs">0</text></g>
<line x1="297.70" y1="430.40" x2="301.30" y2="430.40" stroke="#080808" stroke-width="1.5"/>
<g transform="translate(293.30,433.85)" font-size="10.29" fill="#1e1e1e" stroke="#1e1e1e" stroke-width="0.14"><text x="-16.16" y="0" textLength="5.39" lengthAdjust="spacingAndGlyphs">1</text><text x="-10.77" y="0" textLength="5.39" lengthAdjust="spacingAndGlyphs">0</text><text x="-5.39" y="0" textLength="5.39" lengthAdjust="spacingAndGlyphs">0</text></g>
<g transform="translate(266.90,490.40) rotate(-90)" font-size="12.74" fill="#1e1e1e" stroke="#1e1e1e" stroke-width="0.14"><text x="-38.98" y="0" textLength="10.43" lengthAdjust="spacingAndGlyphs">M</text><text x="-28.56" y="0" textLength="6.50" lengthAdjust="spacingAndGlyphs">e</text><text x="-22.06" y="0" textLength="7.31" lengthAdjust="spacingAndGlyphs">d</text><text x="-14.75" y="0" textLength="3.03" lengthAdjust="spacingAndGlyphs">i</text><text x="-11.72" y="0" textLength="6.25" lengthAdjust="spacingAndGlyphs">a</text><text x="-5.47" y="0" textLength="7.20" lengthAdjust="spacingAndGlyphs">n</text><text x="4.48" y="0" textLength="7.24" lengthAdjust="spacingAndGlyphs">V</text><text x="11.72" y="0" textLength="7.94" lengthAdjust="spacingAndGlyphs">A</text><text x="19.65" y="0" textLength="6.31" lengthAdjust="spacingAndGlyphs">F</text><text x="28.72" y="0" textLength="10.27" lengthAdjust="spacingAndGlyphs">%</text></g>
<rect x="329.00" y="503.30" width="52.70" height="52.05" fill="#a03443" stroke="#88202f" stroke-width="0.6"/>
<rect x="409.20" y="535.30" width="52.80" height="20.05" fill="#4d6380" stroke="#3f5372" stroke-width="0.6"/>
<line x1="355.10" y1="461.70" x2="355.10" y2="503.00" stroke="#b04a58" stroke-width="1.0"/>
<line x1="341.30" y1="461.70" x2="369.10" y2="461.70" stroke="#b04a58" stroke-width="1.3"/>
<line x1="435.50" y1="469.10" x2="435.50" y2="535.00" stroke="#5a6f8c" stroke-width="1.0"/>
<line x1="421.90" y1="469.10" x2="449.60" y2="469.10" stroke="#5a6f8c" stroke-width="1.3"/>
<line x1="355.20" y1="555.35" x2="355.20" y2="559.00" stroke="#080808" stroke-width="1.0"/>
<line x1="435.40" y1="555.35" x2="435.40" y2="559.00" stroke="#080808" stroke-width="1.0"/>
<g transform="translate(355.40,572.60)" font-size="10.39" fill="#1e1e1e" stroke="#1e1e1e" stroke-width="0.14"><text x="-22.78" y="0" textLength="7.21" lengthAdjust="spacingAndGlyphs">D</text><text x="-15.56" y="0" textLength="5.95" lengthAdjust="spacingAndGlyphs">o</text><text x="-9.62" y="0" textLength="9.03" lengthAdjust="spacingAndGlyphs">m</text><text x="-0.58" y="0" textLength="2.53" lengthAdjust="spacingAndGlyphs">i</text><text x="1.95" y="0" textLength="6.01" lengthAdjust="spacingAndGlyphs">n</text><text x="7.96" y="0" textLength="5.22" lengthAdjust="spacingAndGlyphs">a</text><text x="13.18" y="0" textLength="6.01" lengthAdjust="spacingAndGlyphs">n</text><text x="19.19" y="0" textLength="3.58" lengthAdjust="spacingAndGlyphs">t</text></g>
<g transform="translate(435.80,572.60)" font-size="10.39" fill="#1e1e1e" stroke="#1e1e1e" stroke-width="0.14"><text x="-22.58" y="0" textLength="5.40" lengthAdjust="spacingAndGlyphs">S</text><text x="-17.17" y="0" textLength="6.04" lengthAdjust="spacingAndGlyphs">u</text><text x="-11.13" y="0" textLength="6.24" lengthAdjust="spacingAndGlyphs">b</text><text x="-4.89" y="0" textLength="4.91" lengthAdjust="spacingAndGlyphs">c</text><text x="0.02" y="0" textLength="2.59" lengthAdjust="spacingAndGlyphs">l</text><text x="2.60" y="0" textLength="6.02" lengthAdjust="spacingAndGlyphs">o</text><text x="8.62" y="0" textLength="6.08" lengthAdjust="spacingAndGlyphs">n</text><text x="14.71" y="0" textLength="5.28" lengthAdjust="spacingAndGlyphs">a</text><text x="19.99" y="0" textLength="2.59" lengthAdjust="spacingAndGlyphs">l</text></g>
<line x1="354.90" y1="416.00" x2="354.90" y2="422.60" stroke="#333" stroke-width="1.3"/>
<line x1="435.40" y1="416.00" x2="435.40" y2="422.60" stroke="#333" stroke-width="1.3"/>
<line x1="354.90" y1="419.30" x2="386.80" y2="419.30" stroke="#080808" stroke-width="1.2"/>
<line x1="404.10" y1="419.30" x2="435.40" y2="419.30" stroke="#080808" stroke-width="1.2"/>
<circle cx="395.3" cy="419.8" r="1.7" fill="#6a6a6a"/>
<rect x="0" y="0" width="1" height="585" fill="#7a7a7a"/>
<rect x="1" y="0" width="1" height="585" fill="#505050"/>
<rect x="518" y="0" width="1" height="585" fill="#444"/>
<rect x="519" y="0" width="1" height="585" fill="#777"/>
<rect x="1" y="0" width="518" height="1" fill="#000"/>
<rect x="2" y="1" width="516" height="1" fill="#000" opacity="0.3"/>
<rect x="1" y="584" width="518" height="1" fill="#000"/>
<rect x="2" y="583" width="516" height="1" fill="#000" opacity="0.45"/>
</svg>
</body></html>
